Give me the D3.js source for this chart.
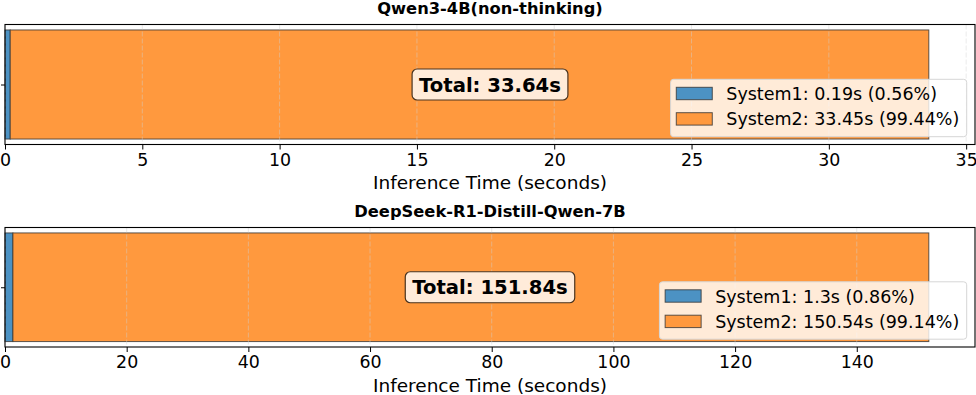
<!DOCTYPE html>
<html>
<head>
<meta charset="utf-8">
<script src="https://cdn.jsdelivr.net/npm/d3@7"></script>
<style>
  html, body { margin: 0; padding: 0; background: #fff; }
  svg { display: block; font-family: "DejaVu Sans", sans-serif; }
</style>
</head>
<body>
<svg id="chart" width="976" height="395"></svg>
<script>
// ---- data ----
const models = ["Qwen3-4B(non-thinking)", "DeepSeek-R1-Distill-Qwen-7B"];
const system1Times = [0.19, 1.3];
const system2Times = [33.45, 150.54];
const totalTimes = [33.64, 151.84];
const system1Pct = [0.56, 0.86];
const system2Pct = [99.44, 99.14];
const xTickValues = [
  [0, 5, 10, 15, 20, 25, 30, 35],
  [0, 20, 40, 60, 80, 100, 120, 140]
];
const seriesNames = ["System1", "System2"];
const seriesColors = ["#4C92C3", "#FF993E"];
const axisLabel = "Inference Time (seconds)";

// ---- layout ----
const svg = d3.select("#chart");
const panels = [
  { left: 5, right: 975, top: 24.5, bottom: 144.5 },
  { left: 5, right: 975, top: 227.5, bottom: 347 }
];

models.forEach((name, i) => {
  const p = panels[i];
  const g = svg.append("g");
  const x = d3.scaleLinear().domain([0, totalTimes[i] * 1.05]).range([p.left, p.right]);
  const y = d3.scaleLinear().domain([0.44, -0.44]).range([p.top, p.bottom]);

  // bars
  const segs = [
    { name: seriesNames[0], start: 0, val: system1Times[i], color: seriesColors[0], pct: system1Pct[i] },
    { name: seriesNames[1], start: system1Times[i], val: system2Times[i], color: seriesColors[1], pct: system2Pct[i] }
  ];
  g.selectAll("rect.bar").data(segs).enter().append("rect")
    .attr("class", "bar")
    .attr("x", d => x(d.start))
    .attr("y", y(0.4))
    .attr("width", d => x(d.start + d.val) - x(d.start))
    .attr("height", y(-0.4) - y(0.4))
    .attr("fill", d => d.color)
    .attr("stroke", "#333")
    .attr("stroke-opacity", 0.8)
    .attr("stroke-width", 1);

  // grid (vertical dashed)
  g.selectAll("line.grid").data(xTickValues[i]).enter().append("line")
    .attr("class", "grid")
    .attr("x1", d => x(d)).attr("x2", d => x(d))
    .attr("y1", p.top).attr("y2", p.bottom)
    .attr("stroke", "#d0d0d0")
    .attr("stroke-opacity", 0.45)
    .attr("stroke-width", 1)
    .attr("stroke-dasharray", "5,2");

  // x axis
  const xAxis = d3.axisBottom(x).tickValues(xTickValues[i]).tickSize(5).tickPadding(4).tickFormat(d3.format("d"));
  const ax = g.append("g").attr("transform", `translate(0,${p.bottom})`).call(xAxis);
  ax.select(".domain").remove();
  ax.selectAll("text").attr("font-size", "17.4px").attr("fill", "#000").attr("font-family", "DejaVu Sans");
  ax.selectAll("line").attr("stroke", "#000").attr("stroke-width", 1);

  // y axis (single empty tick)
  const yAxis = d3.axisLeft(y).tickValues([0]).tickSize(4).tickFormat("");
  const ay = g.append("g").attr("transform", `translate(${p.left},0)`).call(yAxis);
  ay.select(".domain").remove();
  ay.selectAll("line").attr("stroke", "#000").attr("stroke-width", 1);

  // spines
  g.append("rect")
    .attr("x", p.left).attr("y", p.top)
    .attr("width", p.right - p.left).attr("height", p.bottom - p.top)
    .attr("fill", "none").attr("stroke", "#000").attr("stroke-width", 1.1);

  // axis label
  g.append("text")
    .attr("x", (p.left + p.right) / 2).attr("y", p.bottom + 44.5)
    .attr("text-anchor", "middle").attr("font-size", "18.5px").attr("fill", "#000")
    .text(axisLabel);

  // title
  g.append("text")
    .attr("x", (p.left + p.right) / 2).attr("y", p.top - 10.5)
    .attr("text-anchor", "middle").attr("font-size", "16.3px").attr("font-weight", "bold").attr("fill", "#000")
    .text(name);

  // total label box
  const cx = (p.left + p.right) / 2, cy = (p.top + p.bottom) / 2;
  const tg = g.append("g");
  const tt = tg.append("text")
    .attr("x", cx).attr("y", cy).attr("dy", "0.36em")
    .attr("text-anchor", "middle").attr("font-size", "19.6px").attr("font-weight", "bold").attr("fill", "#000")
    .text(`Total: ${totalTimes[i].toFixed(2)}s`);
  const tw = tt.node().getComputedTextLength();
  tg.insert("rect", "text")
    .attr("x", cx - tw / 2 - 7).attr("y", cy - 15.5)
    .attr("width", tw + 14).attr("height", 31)
    .attr("rx", 5).attr("ry", 5)
    .attr("fill", "#FFEBD9")
    .attr("stroke", "#4a3420").attr("stroke-width", 1.2);

  // legend
  const lg = g.append("g");
  const texts = segs.map(d => `${d.name}: ${d.val}s (${d.pct.toFixed(2)}%)`);
  const lt = lg.selectAll("text").data(texts).enter().append("text")
    .attr("font-size", "17.5px").attr("fill", "#000")
    .text(d => d);
  const maxW = d3.max(lt.nodes(), n => n.getComputedTextLength());
  const boxW = 5.7 + 36 + 14 + maxW + 7.4;
  const boxH = 57.4;
  const bx = p.right - 8.3 - boxW;
  const by = p.bottom - 7.8 - boxH;
  lg.insert("rect", "text")
    .attr("x", bx).attr("y", by).attr("width", boxW).attr("height", boxH)
    .attr("rx", 3).attr("ry", 3)
    .attr("fill", "#fff").attr("fill-opacity", 0.8)
    .attr("stroke", "#d6d6d6").attr("stroke-width", 1);
  lg.selectAll("rect.patch").data(segs).enter().append("rect")
    .attr("class", "patch")
    .attr("x", bx + 5.7).attr("y", (d, k) => by + 8 + k * 25.4)
    .attr("width", 36).attr("height", 12.4)
    .attr("fill", d => d.color)
    .attr("stroke", "#333").attr("stroke-opacity", 0.8).attr("stroke-width", 1);
  lt.attr("x", bx + 5.7 + 36 + 14)
    .attr("y", (d, k) => by + 20.7 + k * 25.4);
});
</script>
</body>
</html>
